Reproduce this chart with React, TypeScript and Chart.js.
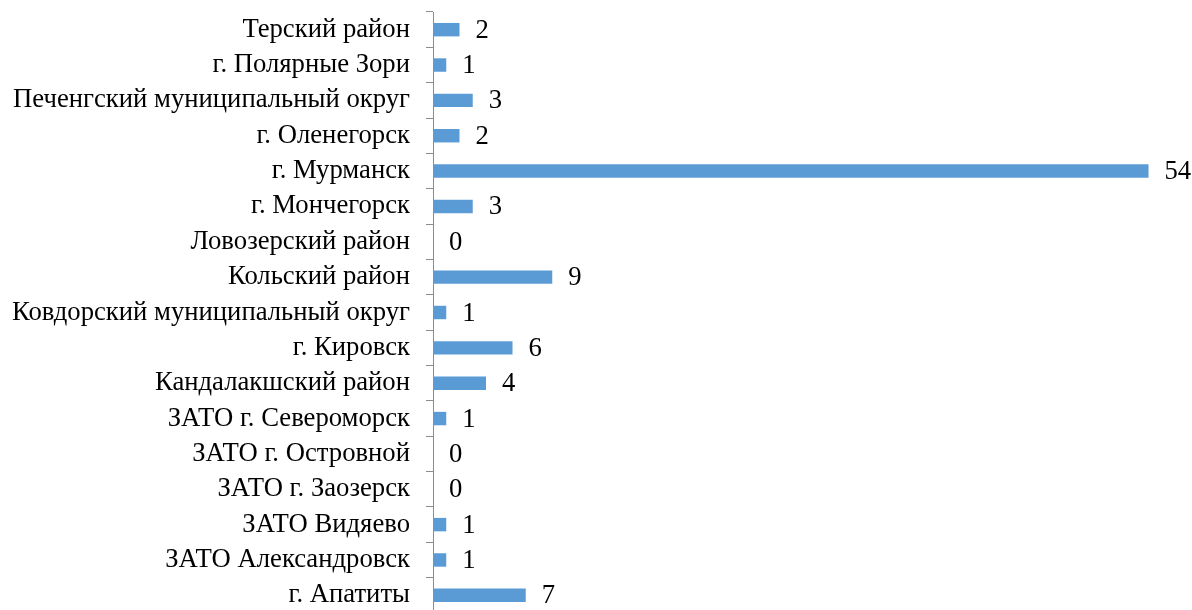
import React, { useEffect, useRef } from "react";
import { Chart, registerables } from "chart.js";

Chart.register(...registerables);

const categories: string[] = [
  "Терский район",
  "г. Полярные Зори",
  "Печенгский муниципальный округ",
  "г. Оленегорск",
  "г. Мурманск",
  "г. Мончегорск",
  "Ловозерский район",
  "Кольский район",
  "Ковдорский муниципальный округ",
  "г. Кировск",
  "Кандалакшский район",
  "ЗАТО г. Североморск",
  "ЗАТО г. Островной",
  "ЗАТО г. Заозерск",
  "ЗАТО Видяево",
  "ЗАТО Александровск",
  "г. Апатиты",
];

const values: number[] = [2, 1, 3, 2, 54, 3, 0, 9, 1, 6, 4, 1, 0, 0, 1, 1, 7];

const xMin = 0;
const xMax = 60;

const FONT_FAMILY = "'Liberation Serif', 'Times New Roman', serif";
const FONT_SIZE = 26.7;

const valueLabels = {
  id: "valueLabels",
  afterDatasetsDraw(chart: any) {
    const ctx = chart.ctx;
    const meta = chart.getDatasetMeta(0);
    ctx.save();
    ctx.font = `${FONT_SIZE}px ${FONT_FAMILY}`;
    ctx.fillStyle = "#000000";
    ctx.textAlign = "left";
    ctx.textBaseline = "middle";
    meta.data.forEach((el: any, i: number) => {
      const v = chart.data.datasets[0].data[i];
      ctx.fillText(String(v), el.x + 16, el.y + 1);
    });
    ctx.restore();
  },
};

export default function App() {
  const ref = useRef<HTMLCanvasElement>(null);
  useEffect(() => {
    if (!ref.current) return;
    const chart = new Chart(ref.current, {
      type: "bar",
      data: {
        labels: categories,
        datasets: [
          {
            data: values,
            backgroundColor: "#5B9BD5",
            borderWidth: 0,
            categoryPercentage: 1,
            barPercentage: 0.38,
          },
        ],
      },
      options: {
        indexAxis: "y",
        responsive: false,
        animation: false,
        layout: { padding: { top: 12, bottom: 0, left: 0, right: 0 } },
        plugins: {
          legend: { display: false },
          tooltip: { enabled: false },
        },
        scales: {
          x: {
            display: false,
            min: xMin,
            max: xMax,
          },
          y: {
            afterFit(scale: any) {
              scale.width = 433;
              scale.paddingTop = 0;
              scale.paddingBottom = 0;
            },
            grid: {
              drawOnChartArea: false,
              drawTicks: true,
              tickLength: 7,
              color: "#8c8c8c",
              offset: true,
            },
            border: { display: true, color: "#8c8c8c", width: 1 },
            ticks: {
              color: "#000000",
              padding: 16,
              font: { family: FONT_FAMILY, size: FONT_SIZE },
              autoSkip: false,
            },
          },
        },
      },
      plugins: [valueLabels],
    });
    return () => chart.destroy();
  }, []);
  return (
    <div
      style={{
        position: "fixed",
        left: 0,
        top: 0,
        width: 1192,
        height: 610,
        overflow: "hidden",
        background: "#ffffff",
      }}
    >
      <canvas ref={ref} width={1228} height={613} style={{ display: "block" }} />
    </div>
  );
}
